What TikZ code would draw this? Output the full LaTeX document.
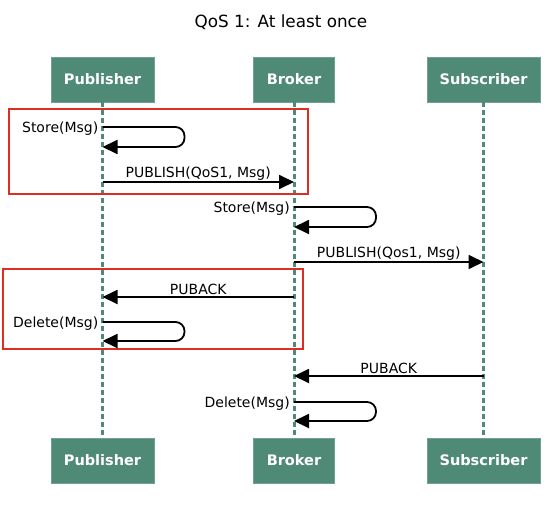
\documentclass[tikz,border=0pt]{standalone}
\usepackage{fontspec}
\setmainfont{DejaVu Sans}
\usetikzlibrary{arrows.meta}
\definecolor{lanegreen}{RGB}{79,138,118}
\definecolor{framered}{RGB}{222,45,35}
\newcommand{\looplen}{82pt}
\newcommand{\selfmsg}[3]{%
    \draw[msg,rounded corners=9pt] (#1) -- ++(\looplen,0) |- (#2);
    \node[lbl,anchor=east,xshift=-3pt,yshift=-2pt] at (#1) {#3};
}

\begin{document}
\begin{tikzpicture}[x=1pt,y=-1pt,
    actor/.style={fill=lanegreen,draw=lanegreen!80!white,text=white,
        font=\bfseries\fontsize{14.5}{17}\selectfont,minimum height=45pt,inner xsep=2pt},
    lane/.style={lanegreen,line width=3pt,dash pattern=on 5pt off 3pt},
    msg/.style={line width=1.8pt,-{Triangle[length=15pt,width=14pt]}},
    lbl/.style={font=\fontsize{14}{16}\selectfont,inner sep=1pt},
    frame/.style={framered,line width=1.6pt}]

\useasboundingbox (0,0) rectangle (560,512);

\node[font=\fontsize{16.8}{19}\selectfont] (title) at (281,22) {QoS 1: At least once};

% actors, top and bottom
\node[actor,minimum width=103pt] (top-pub) at (102.5,79.5) {Publisher};
\node[actor,minimum width=81pt] (top-bro) at (294,79.5) {Broker};
\node[actor,minimum width=113pt] (top-sub) at (483.5,79.5) {Subscriber};
\node[actor,minimum width=103pt] (bot-pub) at (102.5,460.5) {Publisher};
\node[actor,minimum width=81pt] (bot-bro) at (294,460.5) {Broker};
\node[actor,minimum width=113pt] (bot-sub) at (483.5,460.5) {Subscriber};

% lifelines
\foreach \who in {pub, bro, sub}
    \draw[lane] (top-\who) -- (bot-\who);

% message coordinates
\coordinate (p1) at (102.5,127);
\coordinate (p2) at (102.5,147);
\coordinate (p3) at (102.5,182);
\coordinate (b3) at (294,182);
\coordinate (b4) at (294,207);
\coordinate (b5) at (294,227);
\coordinate (b6) at (294,262);
\coordinate (s6) at (483.5,262);
\coordinate (b7) at (294,297);
\coordinate (p7) at (102.5,297);
\coordinate (p8) at (102.5,322);
\coordinate (p9) at (102.5,341);
\coordinate (s10) at (483.5,376);
\coordinate (b10) at (294,376);
\coordinate (b11) at (294,402);
\coordinate (b12) at (294,421);

% red frames
\draw[frame] (9,109) rectangle (308,194);
\draw[frame] (3,269) rectangle (303,349);

\selfmsg{p1}{p2}{Store(Msg)}
\draw[msg] (p3) -- node[lbl,above] {PUBLISH(QoS1, Msg)} (b3);
\selfmsg{b4}{b5}{Store(Msg)}
\draw[msg] (b6) -- node[lbl,above] {PUBLISH(Qos1, Msg)} (s6);
\draw[msg] (b7) -- node[lbl,above] {PUBACK} (p7);
\selfmsg{p8}{p9}{Delete(Msg)}
\draw[msg] (s10) -- node[lbl,above] {PUBACK} (b10);
\selfmsg{b11}{b12}{Delete(Msg)}

\end{tikzpicture}
\end{document}
